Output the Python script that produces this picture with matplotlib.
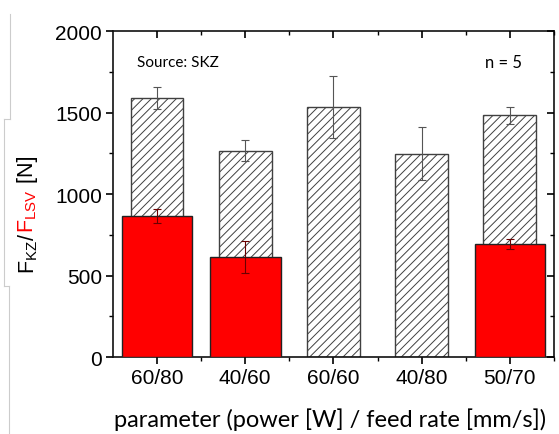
import matplotlib
matplotlib.use("Agg")
import matplotlib.pyplot as plt
import numpy as np
from matplotlib.ticker import MultipleLocator, FixedLocator

categories = ["60/80", "40/60", "60/60", "40/80", "50/70"]
kz_values = [1589, 1266, 1536, 1249, 1485]
kz_errors = [67, 65, 190, 161, 52]
lsv_values = [867, 615, np.nan, np.nan, 693]
lsv_errors = [43, 97, np.nan, np.nan, 33]
yticks = [0, 500, 1000, 1500, 2000]

plt.rcParams['font.family'] = ['Liberation Sans', 'DejaVu Sans']
plt.rcParams['hatch.color'] = '#808080'
plt.rcParams['hatch.linewidth'] = 0.7

fig = plt.figure(figsize=(5.59, 4.35), dpi=100)
ax = fig.add_axes([0.202, 0.177, 0.789, 0.749])

x = np.arange(len(categories))
ax.bar(x, kz_values, width=0.6, color='white', edgecolor='#404040', linewidth=1.0,
       hatch='////', zorder=2)
ax.errorbar(x, kz_values, yerr=kz_errors, fmt='none', ecolor='#555555',
            elinewidth=0.8, capsize=3, capthick=0.8, zorder=3)
ax.bar(x, lsv_values, width=0.8, color='#ff0000', edgecolor='#222222', linewidth=1.0,
       zorder=4)
ax.errorbar(x, lsv_values, yerr=lsv_errors, fmt='none', ecolor='#6a0000',
            elinewidth=0.8, capsize=3, capthick=0.8, zorder=5)

ax.set_xlim(-0.5, len(categories) - 0.5)
ax.set_ylim(0, 2000)
ax.set_xticks(x)
ax.set_xticklabels(categories, fontsize=15)
ax.xaxis.set_minor_locator(FixedLocator(np.arange(-0.5, len(categories), 1.0)[1:]))
ax.set_yticks(yticks)
ax.set_yticklabels([str(v) for v in yticks], fontsize=15)
ax.yaxis.set_minor_locator(MultipleLocator(250))

for s in ax.spines.values():
    s.set_linewidth(1.2)
    s.set_color('#111111')

ax.tick_params(axis='both', which='major', direction='out', length=5, width=1.2,
               labelsize=15, pad=3)
ax.tick_params(axis='both', which='minor', direction='out', length=3, width=1.0)
ax2 = ax.twiny()
ax2.set_xlim(ax.get_xlim())
ax2.set_xticks(x)
ax2.xaxis.set_minor_locator(FixedLocator(np.arange(-0.5, len(categories), 1.0)[1:]))
ax2.tick_params(axis='x', which='major', direction='in', length=5, width=1.2, labeltop=False)
ax2.tick_params(axis='x', which='minor', direction='in', length=3, width=1.0)
ax.tick_params(axis='x', which='both', top=False)
ax3 = ax.twinx()
ax3.set_ylim(ax.get_ylim())
ax3.set_yticks(yticks)
ax3.yaxis.set_minor_locator(MultipleLocator(250))
ax3.tick_params(axis='y', which='major', direction='in', length=5, width=1.2, labelright=False)
ax3.tick_params(axis='y', which='minor', direction='in', length=3, width=1.0)
ax.tick_params(axis='y', which='both', right=False)
for a in (ax2, ax3):
    for s in a.spines.values():
        s.set_visible(False)

fig.text(0.591, 0.035, "parameter (power [W] / feed rate [mm/s])", ha='center', va='center',
         fontsize=17, family=['Lato', 'DejaVu Sans'])
ax.text(0.055, 0.905, "Source: SKZ", transform=ax.transAxes, ha='left', va='center',
        fontsize=11, family=['Lato', 'DejaVu Sans'])
ax.text(0.885, 0.905, "n = 5", transform=ax.transAxes, ha='center', va='center',
        fontsize=12, family=['Lato', 'DejaVu Sans'])

# y label in parts with colours
fig.canvas.draw()
renderer = fig.canvas.get_renderer()
parts = [(r"$\mathregular{F_{KZ}}$/", 'black'), (r"$\mathregular{F_{LSV}}$", 'red'), (" [N]", 'black')]
xpos = 28 / 559
texts = []
for s, c in parts:
    t = fig.text(xpos, 0, s, rotation=90, color=c, fontsize=15.5, ha='center', va='bottom')
    texts.append(t)
heights = [t.get_window_extent(renderer).height for t in texts]
total = sum(heights)
center_y = 1 - 215 / 435
ystart = center_y * fig.bbox.height - total / 2
cur = ystart
for t, h in zip(texts, heights):
    t.set_y(cur / fig.bbox.height)
    cur += h

# faint screenshot border lines
from matplotlib.lines import Line2D
W, H = 559, 435
segs = [([10, 10], [15, 120]), ([4, 10], [120, 120]), ([4, 4], [120, 287]),
        ([4, 9], [287, 287]), ([9, 9], [287, 435])]
for xs, ys in segs:
    fig.add_artist(Line2D([v / W for v in xs], [1 - v / H for v in ys],
                          color='#cccccc', linewidth=0.8))

fig.savefig("out.png", dpi=100)
